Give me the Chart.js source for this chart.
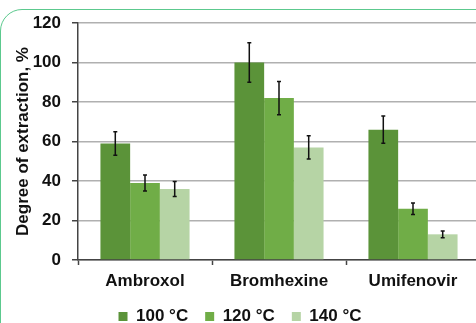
<!DOCTYPE html>
<html>
<head>
<meta charset="utf-8">
<script src="https://cdn.jsdelivr.net/npm/chart.js@4.4.1/dist/chart.umd.min.js"></script>
<style>
    html, body { margin: 0; padding: 0; background: #fff; overflow: hidden; }
    body { width: 476px; height: 323px; position: relative; }
    #frame {
        position: absolute; left: 0; top: 9px; width: 600px; height: 420px;
        border: 1.5px solid #5cc98e; border-radius: 22px; box-sizing: border-box;
    }
    #wrap { position: absolute; left: 0; top: 0; width: 490px; height: 335px; }
</style>
</head>
<body>
<div id="frame"></div>
<div id="wrap"><canvas id="extractionChart"></canvas></div>
<script>
const categories = ['Ambroxol', 'Bromhexine', 'Umifenovir'];
const seriesLabels = ['100 °C', '120 °C', '140 °C'];
const values100 = [59, 100, 66];
const values120 = [39, 82, 26];
const values140 = [36, 57, 13];
const errors100 = [5.9, 10, 6.9];
const errors120 = [4.1, 8.4, 2.9];
const errors140 = [3.8, 5.9, 1.7];
const yTicks = [0, 20, 40, 60, 80, 100, 120];

const colors = ['#5b9339', '#70ad47', '#b6d4a5'];
const fontBold = { family: "'Liberation Sans', Arial, sans-serif", size: 17, weight: 'bold' };

// error bars, drawn from the error arrays through the y scale
const errorBars = {
    id: 'errorBars',
    afterDatasetsDraw(chart) {
        const ctx = chart.ctx;
        const yScale = chart.scales.y;
        ctx.save();
        ctx.strokeStyle = '#111';
        ctx.lineWidth = 1.5;
        chart.data.datasets.forEach(function(ds, i) {
            const meta = chart.getDatasetMeta(i);
            meta.data.forEach(function(bar, j) {
                const v = ds.data[j];
                const e = ds.errors[j];
                const top = yScale.getPixelForValue(v + e);
                const bottom = yScale.getPixelForValue(v - e);
                ctx.beginPath();
                ctx.moveTo(bar.x, top);
                ctx.lineTo(bar.x, bottom);
                ctx.moveTo(bar.x - 2, top);
                ctx.lineTo(bar.x + 2, top);
                ctx.moveTo(bar.x - 2, bottom);
                ctx.lineTo(bar.x + 2, bottom);
                ctx.stroke();
            });
        });
        ctx.restore();
    }
};

const ctxChart = document.getElementById('extractionChart');
new Chart(ctxChart, {
    type: 'bar',
    data: {
        labels: categories,
        datasets: [
            { label: seriesLabels[0], data: values100, errors: errors100, backgroundColor: colors[0] },
            { label: seriesLabels[1], data: values120, errors: errors120, backgroundColor: colors[1] },
            { label: seriesLabels[2], data: values140, errors: errors140, backgroundColor: colors[2] }
        ]
    },
    options: {
        responsive: true,
        maintainAspectRatio: false,
        animation: false,
        layout: { padding: { top: 23, left: 0, right: 10, bottom: 0 } },
        datasets: {
            bar: { categoryPercentage: 0.665, barPercentage: 1.0, borderWidth: 0 }
        },
        plugins: {
            legend: {
                position: 'bottom',
                labels: {
                    color: '#111',
                    font: fontBold,
                    boxWidth: 9,
                    boxHeight: 9,
                    padding: 17
                }
            },
            tooltip: { enabled: false }
        },
        scales: {
            x: {
                afterFit: function(scale) {
                    scale.height = 31;
                },
                grid: {
                    drawOnChartArea: false,
                    drawTicks: true,
                    tickLength: 5,
                    tickColor: '#444',
                    tickWidth: 1.5
                },
                border: { color: '#444', width: 1.5 },
                ticks: { color: '#111', font: fontBold, padding: 6 }
            },
            y: {
                min: 0,
                max: 120,
                afterBuildTicks: function(scale) {
                    scale.ticks = yTicks.map(function(v) { return { value: v }; });
                },
                afterFit: function(scale) {
                    scale.width = 78;
                },
                grid: {
                    color: '#b0b0b0',
                    lineWidth: 1.5,
                    tickLength: 6,
                    tickColor: '#444',
                    tickWidth: 1.5
                },
                border: { color: '#444', width: 1.5 },
                ticks: { color: '#111', font: fontBold, padding: 11 },
                title: {
                    display: true,
                    text: 'Degree of extraction, %',
                    color: '#111',
                    font: fontBold,
                    padding: { top: 13, bottom: 0 }
                }
            }
        }
    },
    plugins: [errorBars]
});
</script>
</body>
</html>
